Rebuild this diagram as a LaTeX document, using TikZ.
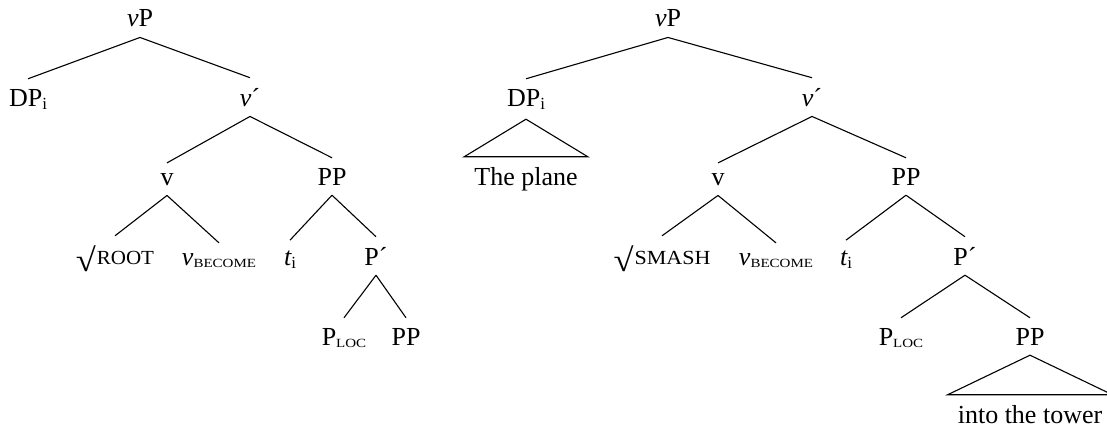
\documentclass[tikz,border=0pt]{standalone}
\usepackage{fontspec}
\setmainfont{Liberation Serif}
\newfontfamily\scfont[FakeStretch=1.2]{Liberation Serif}
\newfontfamily\rootfont[FakeStretch=1.05]{Liberation Serif}
\newfontfamily\smashfont[FakeStretch=1.1]{Liberation Serif}
\newcommand\mysubi[1]{\raisebox{-3pt}{\fontsize{17}{17}\selectfont #1}}
\newcommand\mysubsc[1]{\raisebox{-2pt}{\scfont\fontsize{12.5}{12.5}\selectfont #1}}
\newcommand\mysurd{\raisebox{-8pt}{\resizebox*{20pt}{26pt}{\raisebox{\depth}{√}}}}
\newcommand\myroot[1]{\mysurd\hspace{1pt}{\fontsize{20}{20}\selectfont #1}}
\tikzset{
  lbl/.style={inner xsep=0pt, inner ysep=10pt, anchor=base, font=\fontsize{26}{30}\selectfont},
  tri/.style={lbl, inner xsep=10pt},
  edge/.style={line width=1.1pt}
}
\begin{document}
\begin{tikzpicture}[x=1pt,y=-1pt]
\useasboundingbox (0,0) rectangle (1107,431);
% ---------- left tree ----------
\node[lbl] (vPL) at (140,27) {{\itshape v}P};
\node[lbl] (DPL) at (28,106) {DP\mysubi{i}};
\node[lbl] (vbarL) at (250,106) {{\itshape v}´};
\node[lbl] (vL) at (167,185) {v};
\node[lbl] (PPL) at (332,185) {PP};
\node[lbl] (rootL) at (115,264) {{\rootfont\myroot{ROOT}}};
\node[lbl] (vbecL) at (219,265) {{\itshape v}\mysubsc{BECOME}};
\node[lbl] (tL) at (290,265) {{\itshape t}\mysubi{i}};
\node[lbl] (PbarL) at (376,265) {P´};
\node[lbl] (PlocL) at (344,345) {P\mysubsc{LOC}};
\node[lbl] (PPL2) at (406,345) {PP};
\draw[edge] (vPL.south) -- (DPL.north);
\draw[edge] (vPL.south) -- (vbarL.north);
\draw[edge] (vbarL.south) -- (vL.north);
\draw[edge] (vbarL.south) -- (PPL.north);
\draw[edge] (vL.south) -- (rootL.north);
\draw[edge] (vL.south) -- (vbecL.north);
\draw[edge] (PPL.south) -- (tL.north);
\draw[edge] (PPL.south) -- (PbarL.north);
\draw[edge] (PbarL.south) -- (PlocL.north);
\draw[edge] (PbarL.south) -- (PPL2.north);
% ---------- right tree ----------
\node[lbl] (vPR) at (668,27) {{\itshape v}P};
\node[lbl] (DPR) at (526,106) {DP\mysubi{i}};
\node[tri] (planeR) at (526,185) {The plane};
\node[lbl] (vbarR) at (812,106) {{\itshape v}´};
\node[lbl] (vR) at (718,185) {v};
\node[lbl] (PPR) at (906,185) {PP};
\node[lbl] (smashR) at (662,264) {{\smashfont\myroot{SMASH}}};
\node[lbl] (vbecR) at (776,265) {{\itshape v}\mysubsc{BECOME}};
\node[lbl] (tR) at (846,265) {{\itshape t}\mysubi{i}};
\node[lbl] (PbarR) at (965,265) {P´};
\node[lbl] (PlocR) at (901,345) {P\mysubsc{LOC}};
\node[lbl] (PPR2) at (1030,345) {PP};
\node[tri] (towerR) at (1030,423) {into the tower};
\draw[edge] (vPR.south) -- (DPR.north);
\draw[edge] (vPR.south) -- (vbarR.north);
\draw[edge] (DPR.south) -- (planeR.north west) -- (planeR.north east) -- cycle;
\draw[edge] (vbarR.south) -- (vR.north);
\draw[edge] (vbarR.south) -- (PPR.north);
\draw[edge] (vR.south) -- (smashR.north);
\draw[edge] (vR.south) -- (vbecR.north);
\draw[edge] (PPR.south) -- (tR.north);
\draw[edge] (PPR.south) -- (PbarR.north);
\draw[edge] (PbarR.south) -- (PlocR.north);
\draw[edge] (PbarR.south) -- (PPR2.north);
\draw[edge] (PPR2.south) -- (towerR.north west) -- (towerR.north east) -- cycle;
\end{tikzpicture}
\end{document}
